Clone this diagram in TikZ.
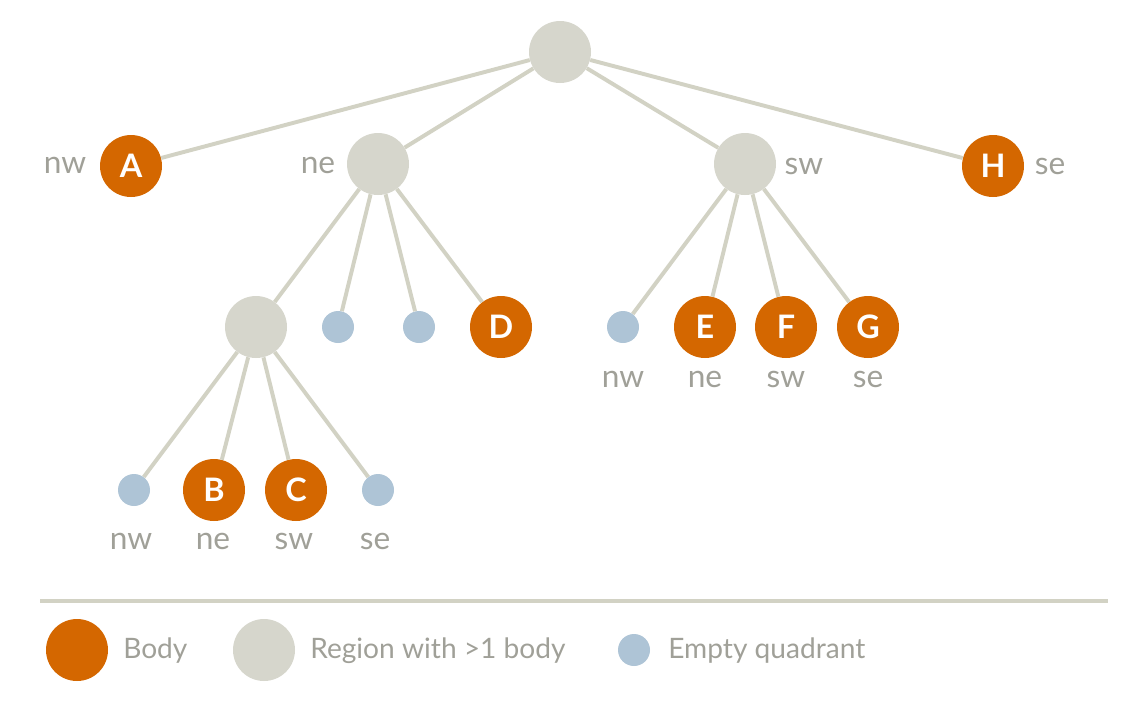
\documentclass[tikz,border=0pt]{standalone}
\usepackage{fontspec}
\setmainfont{Lato}
\usepackage{tikz}
\usetikzlibrary{positioning}

\definecolor{bodyorange}{HTML}{D46700}
\definecolor{regiongray}{HTML}{D6D6CC}
\definecolor{emptyblue}{HTML}{AEC4D6}
\definecolor{edgegray}{HTML}{D2D2C4}
\definecolor{labelgray}{HTML}{A0A098}

\begin{document}
\begin{tikzpicture}[
    x=0.025cm, y=-0.025cm,
    bodynode/.style={
        circle,
        fill=bodyorange,
        minimum size=62*0.025cm,
        inner sep=0pt,
        text=white,
        font=\fontsize{23}{23}\selectfont\bfseries
    },
    regionnode/.style={
        circle,
        fill=regiongray,
        minimum size=62*0.025cm,
        inner sep=0pt
    },
    emptynode/.style={
        circle,
        fill=emptyblue,
        minimum size=32*0.025cm,
        inner sep=0pt
    },
    lbl/.style={
        text=labelgray,
        inner sep=0pt,
        font=\fontsize{22.5}{22.5}\selectfont
    },
    legendtext/.style={
        text=labelgray,
        inner sep=0pt,
        anchor=base west,
        font=\fontsize{20}{20}\selectfont
    },
    edge/.style={
        draw=edgegray,
        line width=2.8pt
    }
]
    \useasboundingbox (0,0) rectangle (1138,704);

    % tree nodes
    \node[regionnode] (root) at (560, 52) {};
    \node[bodynode] (A) at (131, 166) {A};
    \node[regionnode] (ne) at (378, 164) {};
    \node[regionnode] (sw) at (745, 164) {};
    \node[bodynode] (H) at (993, 166) {H};

    \node[regionnode] (nenw) at (256, 327) {};
    \node[emptynode] (nene) at (338, 327) {};
    \node[emptynode] (nesw) at (419, 327) {};
    \node[bodynode] (D) at (501, 327) {D};

    \node[emptynode] (swnw) at (623, 327) {};
    \node[bodynode] (E) at (705, 327) {E};
    \node[bodynode] (F) at (786, 327) {F};
    \node[bodynode] (G) at (868, 327) {G};

    \node[emptynode] (nenwnw) at (134, 490) {};
    \node[bodynode] (B) at (214, 490) {B};
    \node[bodynode] (C) at (296, 490) {C};
    \node[emptynode] (nenwse) at (378, 490) {};

    % quadrant labels
    \node[lbl] (lA) at (65, 165) {nw};
    \node[lbl] (lne) at (318, 165) {ne};
    \node[lbl] (lsw) at (804, 166) {sw};
    \node[lbl] (lH) at (1050, 166) {se};

    \node[lbl] (lswnw) at (623, 379) {nw};
    \node[lbl] (lE) at (705, 379) {ne};
    \node[lbl] (lF) at (786, 379) {sw};
    \node[lbl] (lG) at (868, 379) {se};

    \node[lbl] (lnenwnw) at (131, 541) {nw};
    \node[lbl] (lB) at (213, 541) {ne};
    \node[lbl] (lC) at (294, 541) {sw};
    \node[lbl] (lnenwse) at (375, 541) {se};

    % edges
    \draw[edge] (root) -- (A);
    \draw[edge] (root) -- (ne);
    \draw[edge] (root) -- (sw);
    \draw[edge] (root) -- (H);
    \draw[edge] (ne) -- (nenw);
    \draw[edge] (ne) -- (nene);
    \draw[edge] (ne) -- (nesw);
    \draw[edge] (ne) -- (D);
    \draw[edge] (sw) -- (swnw);
    \draw[edge] (sw) -- (E);
    \draw[edge] (sw) -- (F);
    \draw[edge] (sw) -- (G);
    \draw[edge] (nenw) -- (nenwnw);
    \draw[edge] (nenw) -- (B);
    \draw[edge] (nenw) -- (C);
    \draw[edge] (nenw) -- (nenwse);

    % legend
    \coordinate (sepl) at (40, 601);
    \coordinate (sepr) at (1108, 601);
    \draw[edgegray, line width=2.2pt] (sepl) -- (sepr);

    \node[bodynode] (keybody) at (77, 650) {};
    \node[legendtext] (keybodytxt) at (123, 658) {Body};
    \node[regionnode] (keyregion) at (264, 650) {};
    \node[legendtext] (keyregiontxt) at (310, 658) {Region with >1 body};
    \node[emptynode] (keyempty) at (634, 650) {};
    \node[legendtext] (keyemptytxt) at (668, 658) {Empty quadrant};
\end{tikzpicture}
\end{document}
